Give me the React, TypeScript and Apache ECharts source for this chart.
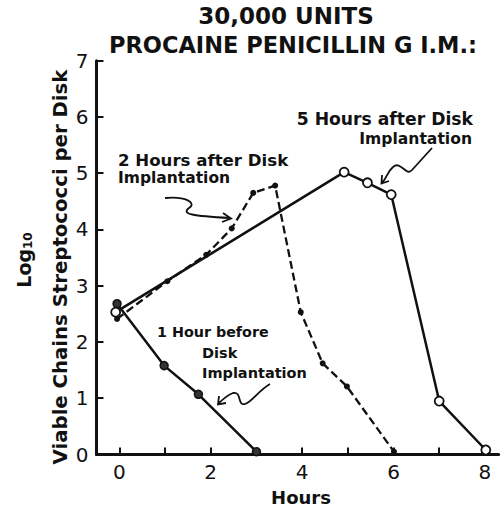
import React, { useEffect, useRef } from "react";
import * as echarts from "echarts";

// 1 Hour before Disk Implantation (solid, filled dots)
const hoursBefore = [-0.05, 0.98, 1.73, 3.0];
const valuesBefore = [2.68, 1.58, 1.07, 0.05];

// 2 Hours after Disk Implantation (dashed, small dots)
const hoursAfter2 = [-0.05, 1.05, 1.9, 2.46, 2.93, 3.41, 3.97, 4.45, 4.98, 6.01];
const valuesAfter2 = [2.41, 3.08, 3.55, 4.02, 4.65, 4.78, 2.53, 1.62, 1.21, 0.05];

// 5 Hours after Disk Implantation (solid, open circles)
const hoursAfter5 = [-0.08, 4.92, 5.43, 5.95, 7.0, 8.02];
const valuesAfter5 = [2.53, 5.02, 4.83, 4.62, 0.95, 0.08];

const xTicks = [0, 1, 2, 3, 4, 5, 6, 7, 8];
const xLabels = [0, 2, 4, 6, 8];

const titleLines = ["30,000 UNITS", "PROCAINE PENICILLIN G I.M.:"];

const INK = "#111";
const FONT = "DejaVu Sans";

const arrow2h =
  "M165,198 C186,196 197,203 189,208 C181,214 192,216 230,218 M223,213 L231,218.5 L222,222";
const arrow5h =
  "M432,148 L412,170 C406,177 401,160 393,167 C387,172 387,178 382,183 M382,175 L381.5,183.5 L389,181";
const arrow1h =
  "M270,384 C258,391 252,402 245,404 C237,406 242,391 233,393 C227,395 223,399 218,404 M219,396 L218,404.5 L226,403";

echarts.graphic.registerShape("arrow2h", echarts.graphic.extendPath(arrow2h, {}));
echarts.graphic.registerShape("arrow5h", echarts.graphic.extendPath(arrow5h, {}));
echarts.graphic.registerShape("arrow1h", echarts.graphic.extendPath(arrow1h, {}));

function zip(xs: number[], ys: number[]) {
  return xs.map((x, i) => [x, ys[i]]);
}

export default function App() {
  const ref = useRef<HTMLDivElement>(null);
  useEffect(() => {
    document.body.style.margin = "0";
    const chart = echarts.init(ref.current!, undefined, { renderer: "svg" });
    const anno = (size: number) => ({ fill: INK, font: `bold ${size}px "${FONT}"`, textVerticalAlign: "middle" });
    chart.setOption({
      animation: false,
      backgroundColor: "#fff",
      grid: { left: 96.5, right: 4.4, top: 60.7, bottom: 53.5 },
      xAxis: {
        type: "value",
        min: -0.5,
        max: 8.3,
        splitLine: { show: false },
        axisLine: { show: true, onZero: false, lineStyle: { color: INK, width: 3 } },
        axisTick: {
          show: true,
          inside: true,
          length: 7,
          customValues: xTicks,
          lineStyle: { color: INK, width: 2 },
        },
        axisLabel: {
          customValues: xLabels,
          color: INK,
          fontSize: 20,
          fontFamily: FONT,
          margin: 7,
        },
      },
      yAxis: {
        type: "value",
        min: 0,
        max: 7,
        interval: 1,
        splitLine: { show: false },
        axisLine: { show: true, onZero: false, lineStyle: { color: INK, width: 3 } },
        axisTick: { show: true, inside: true, length: 7, lineStyle: { color: INK, width: 2 } },
        axisLabel: { color: INK, fontSize: 20, fontFamily: FONT, margin: 8 },
      },
      series: [
        {
          type: "line",
          data: zip(hoursBefore, valuesBefore),
          lineStyle: { color: INK, width: 2.5 },
          symbol: "circle",
          symbolSize: 8,
          itemStyle: { color: "#333", borderColor: INK, borderWidth: 1.5 },
          z: 3,
        },
        {
          type: "line",
          data: zip(hoursAfter2, valuesAfter2),
          lineStyle: { color: INK, width: 2.3, type: [8, 4] },
          symbol: "circle",
          symbolSize: 6,
          itemStyle: { color: INK, borderColor: INK, borderWidth: 0 },
          z: 2,
        },
        {
          type: "line",
          data: zip(hoursAfter5, valuesAfter5),
          lineStyle: { color: INK, width: 2.5 },
          symbol: "circle",
          symbolSize: 9,
          itemStyle: { color: "#fff", borderColor: INK, borderWidth: 1.8 },
          z: 4,
        },
      ],
      graphic: [
        {
          type: "text",
          x: 286,
          y: 16,
          style: { text: titleLines[0], fill: INK, font: `bold 23px "${FONT}"`, textAlign: "center", textVerticalAlign: "middle" },
        },
        {
          type: "text",
          x: 293,
          y: 45,
          style: { text: titleLines[1], fill: INK, font: `bold 22.5px "${FONT}"`, textAlign: "center", textVerticalAlign: "middle" },
        },
        {
          type: "text",
          x: 60,
          y: 267,
          rotation: Math.PI / 2,
          style: {
            text: "Viable Chains Streptococci per Disk",
            fill: INK,
            font: `bold 19.7px "${FONT}"`,
            textAlign: "center",
            textVerticalAlign: "middle",
          },
        },
        {
          type: "text",
          x: 24,
          y: 260,
          rotation: Math.PI / 2,
          style: {
            text: "Log{s|10}",
            fill: INK,
            font: `bold 19px "${FONT}"`,
            textAlign: "center",
            textVerticalAlign: "middle",
            rich: { s: { fontSize: 12, fontWeight: "bold", fontFamily: FONT, verticalAlign: "bottom", padding: [6, 0, 0, 0] } },
          },
        },
        {
          type: "text",
          x: 301,
          y: 497,
          style: { text: "Hours", fill: INK, font: `bold 18px "${FONT}"`, textAlign: "center", textVerticalAlign: "middle" },
        },
        { type: "text", x: 118, y: 160, style: { ...anno(16.6), text: "2 Hours after Disk" } },
        { type: "text", x: 118, y: 178, style: { ...anno(15.5), text: "Implantation" } },
        { type: "text", x: 473, y: 119, style: { ...anno(17.2), text: "5 Hours after Disk", textAlign: "right" } },
        { type: "text", x: 472, y: 139, style: { ...anno(15.6), text: "Implantation", textAlign: "right" } },
        { type: "text", x: 157, y: 332, style: { ...anno(14.3), text: "1 Hour before" } },
        { type: "text", x: 202, y: 353, style: { ...anno(14.5), text: "Disk" } },
        { type: "text", x: 202, y: 373, style: { ...anno(14.5), text: "Implantation" } },
        { type: "arrow2h", x: 0, y: 0, style: { stroke: INK, fill: "none", lineWidth: 1.8 } },
        { type: "arrow5h", x: 0, y: 0, style: { stroke: INK, fill: "none", lineWidth: 1.8 } },
        { type: "arrow1h", x: 0, y: 0, style: { stroke: INK, fill: "none", lineWidth: 1.8 } },
      ],
    });
    return () => chart.dispose();
  }, []);
  return <div ref={ref} style={{ width: 503, height: 508 }} />;
}
